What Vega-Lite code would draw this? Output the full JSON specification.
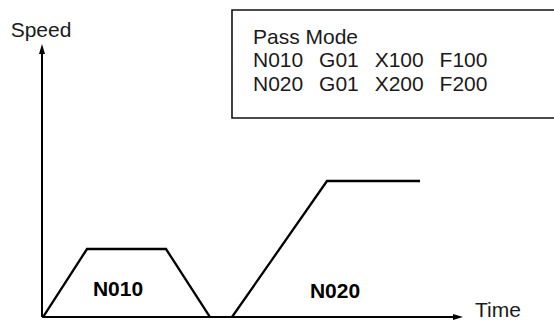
{
  "$schema": "https://vega.github.io/schema/vega-lite/v6.json",
  "width": 554,
  "height": 322,
  "autosize": {"type": "none"},
  "padding": 0,
  "background": "white",
  "config": {"view": {"stroke": null}, "font": "Liberation Sans"},
  "datasets": {
    "profiles": [
      {"block": "N010", "order": 0, "time": 0.1, "speed": 0},
      {"block": "N010", "order": 1, "time": 4.5, "speed": 100},
      {"block": "N010", "order": 2, "time": 12.4, "speed": 100},
      {"block": "N010", "order": 3, "time": 16.8, "speed": 0},
      {"block": "N020", "order": 0, "time": 19.0, "speed": 0},
      {"block": "N020", "order": 1, "time": 28.5, "speed": 200},
      {"block": "N020", "order": 2, "time": 37.8, "speed": 200}
    ],
    "axes": [
      {"axis": "speed", "t0": 0, "t1": 0, "s0": 0, "s1": 395},
      {"axis": "time", "t0": 0, "t1": 41.7, "s0": 0, "s1": 0}
    ],
    "arrows": [
      {"axis": "speed", "time": 0, "speed": 394.1, "dir": "up"},
      {"axis": "time", "time": 41.6, "speed": 0, "dir": "right"}
    ],
    "box": [{"t0": 19.0, "t1": 53, "s0": 292.6, "s1": 451.5}],
    "boxText": [
      {"line": 1, "time": 21.1, "speed": 411.0, "label": "Pass Mode"},
      {"line": 2, "time": 21.1, "speed": 377.2, "label": "N010\u00a0\u00a0\u2009G01\u00a0\u00a0\u2009X100\u00a0\u00a0\u2009F100"},
      {"line": 3, "time": 21.1, "speed": 341.9, "label": "N020\u00a0\u00a0\u2009G01\u00a0\u00a0\u2009X200\u00a0\u00a0\u2009F200"}
    ],
    "axisLabels": [
      {"time": -0.1, "speed": 420.6, "label": "Speed", "align": "center"},
      {"time": 43.3, "speed": -0.5, "label": "Time", "align": "left"}
    ],
    "blockLabels": [
      {"time": 7.6, "speed": 39.7, "label": "N010"},
      {"time": 29.3, "speed": 36.8, "label": "N020"}
    ]
  },
  "layer": [
    {
      "data": {"name": "box"},
      "mark": {"type": "rect", "fill": null, "stroke": "#111", "strokeWidth": 1.6, "clip": false},
      "encoding": {
        "x": {"field": "t0", "type": "quantitative", "scale": {"domain": [-4.2, 51.2], "nice": false, "zero": false}, "axis": null},
        "x2": {"field": "t1"},
        "y": {"field": "s0", "type": "quantitative", "scale": {"domain": [-7.35, 466.2], "nice": false, "zero": false}, "axis": null},
        "y2": {"field": "s1"}
      }
    },
    {
      "data": {"name": "axes"},
      "mark": {"type": "rule", "stroke": "#000", "strokeWidth": 2},
      "encoding": {
        "x": {"field": "t0", "type": "quantitative"},
        "x2": {"field": "t1"},
        "y": {"field": "s0", "type": "quantitative"},
        "y2": {"field": "s1"}
      }
    },
    {
      "data": {"name": "arrows"},
      "transform": [{"filter": "datum.dir == 'up'"}],
      "mark": {"type": "point", "shape": "M0,-1L-0.6,1L0.6,1Z", "size": 100, "filled": true, "color": "#000", "opacity": 1},
      "encoding": {
        "x": {"field": "time", "type": "quantitative"},
        "y": {"field": "speed", "type": "quantitative"}
      }
    },
    {
      "data": {"name": "arrows"},
      "transform": [{"filter": "datum.dir == 'right'"}],
      "mark": {"type": "point", "shape": "M1,0L-1,-0.6L-1,0.6Z", "size": 100, "filled": true, "color": "#000", "opacity": 1},
      "encoding": {
        "x": {"field": "time", "type": "quantitative"},
        "y": {"field": "speed", "type": "quantitative"}
      }
    },
    {
      "data": {"name": "profiles"},
      "mark": {"type": "line", "stroke": "#000", "strokeWidth": 2.3, "strokeJoin": "miter"},
      "encoding": {
        "x": {"field": "time", "type": "quantitative"},
        "y": {"field": "speed", "type": "quantitative"},
        "detail": {"field": "block"},
        "order": {"field": "order"}
      }
    },
    {
      "data": {"name": "boxText"},
      "mark": {"type": "text", "align": "left", "baseline": "middle", "fontSize": 21, "color": "#1a1a1a"},
      "encoding": {
        "x": {"field": "time", "type": "quantitative"},
        "y": {"field": "speed", "type": "quantitative"},
        "text": {"field": "label"}
      }
    },
    {
      "data": {"name": "axisLabels"},
      "transform": [{"filter": "datum.align == 'center'"}],
      "mark": {"type": "text", "align": "center", "baseline": "middle", "fontSize": 21, "color": "#1a1a1a"},
      "encoding": {
        "x": {"field": "time", "type": "quantitative"},
        "y": {"field": "speed", "type": "quantitative"},
        "text": {"field": "label"}
      }
    },
    {
      "data": {"name": "axisLabels"},
      "transform": [{"filter": "datum.align == 'left'"}],
      "mark": {"type": "text", "align": "left", "baseline": "alphabetic", "fontSize": 21, "color": "#1a1a1a"},
      "encoding": {
        "x": {"field": "time", "type": "quantitative"},
        "y": {"field": "speed", "type": "quantitative"},
        "text": {"field": "label"}
      }
    },
    {
      "data": {"name": "blockLabels"},
      "mark": {"type": "text", "align": "center", "baseline": "middle", "fontSize": 21, "fontWeight": "bold", "color": "#000"},
      "encoding": {
        "x": {"field": "time", "type": "quantitative"},
        "y": {"field": "speed", "type": "quantitative"},
        "text": {"field": "label"}
      }
    }
  ]
}
